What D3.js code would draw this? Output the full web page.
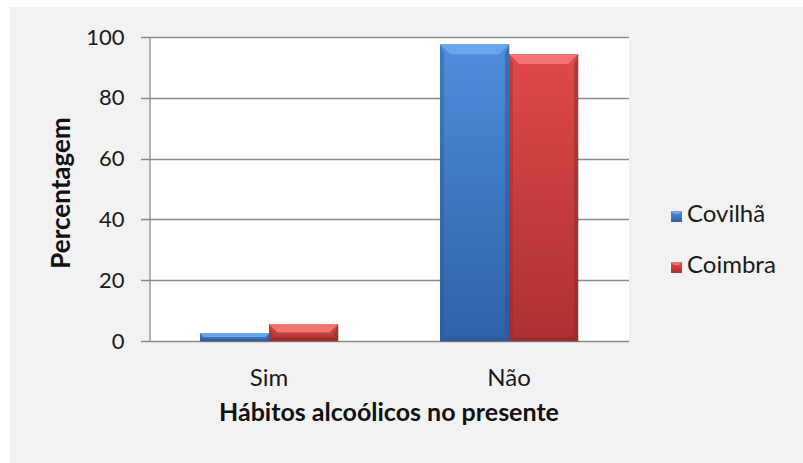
<!DOCTYPE html>
<html>
<head>
<meta charset="utf-8">
<script src="https://cdn.jsdelivr.net/npm/d3@7"></script>
<style>
  body { margin: 0; background: #fff; }
  svg { display: block; font-family: Lato, "Open Sans", sans-serif; }
</style>
</head>
<body>
<svg></svg>
<script>
const categories = ["Sim", "Não"];
const seriesNames = ["Covilhã", "Coimbra"];
const covilha = [2.6, 97.6];
const coimbra = [5.6, 94.4];
const yTicks = [0, 20, 40, 60, 80, 100];

const width = 803, height = 463;
const plot = { left: 149, right: 629, top: 37, bottom: 341 };

const colors = {
    "Covilhã": { top: "#4f8ddc", bottom: "#2f62a8", bevel: "#6aa6ee", edge: "#28548f" },
    "Coimbra": { top: "#e04a4a", bottom: "#ad3030", bevel: "#f27373", edge: "#8f2626" }
};

let svg = d3.select("svg")
    .attr("width", width)
    .attr("height", height);

//panel background
svg.append("rect")
    .attr("x", 10).attr("y", 7)
    .attr("width", width - 10).attr("height", height - 7)
    .attr("fill", "#f2f2f2");

svg.append("rect")
    .attr("x", plot.left).attr("y", plot.top)
    .attr("width", plot.right - plot.left).attr("height", plot.bottom - plot.top)
    .attr("fill", "#ffffff");

let x0 = d3.scaleBand()
    .domain(categories)
    .range([plot.left, plot.right])
    .paddingInner(0.425)
    .paddingOuter(0.2125);

let x1 = d3.scaleBand()
    .domain(seriesNames)
    .range([0, x0.bandwidth()]);

let y = d3.scaleLinear().domain([0, 100]).range([plot.bottom, plot.top]);

//gradients
let defs = svg.append("defs");
seriesNames.forEach((s, i) => {
    let g = defs.append("linearGradient")
        .attr("id", "grad" + i)
        .attr("x1", 0).attr("y1", 0).attr("x2", 0).attr("y2", 1);
    g.append("stop").attr("offset", "0%").attr("stop-color", colors[s].top);
    g.append("stop").attr("offset", "100%").attr("stop-color", colors[s].bottom);
});

//gridlines
svg.append("g")
    .selectAll("line")
    .data(yTicks)
    .enter()
    .append("line")
    .attr("x1", plot.left - 8)
    .attr("x2", plot.right)
    .attr("y1", d => Math.round(y(d)) + 0.5)
    .attr("y2", d => Math.round(y(d)) + 0.5)
    .attr("stroke", "#8a8a8a")
    .attr("stroke-width", 1.3);

//y axis
let yAxis = d3.axisLeft(y).tickValues(yTicks).tickSize(0).tickPadding(25);
let yg = svg.append("g")
    .attr("transform", `translate(${plot.left + 0.5}, 0)`)
    .call(yAxis);
yg.select(".domain").attr("stroke", "#8a8a8a").attr("stroke-width", 1.3);
yg.selectAll("text")
    .attr("font-size", 22)
    .attr("fill", "#1a1a1a")
    .attr("font-family", "Lato, sans-serif");

//bars
const rows = categories.map((c, i) => ({ cat: c, values: [covilha[i], coimbra[i]] }));

let groups = svg.append("g")
    .selectAll("g")
    .data(rows)
    .enter()
    .append("g")
    .attr("transform", d => `translate(${x0(d.cat)}, 0)`);

groups.each(function (row) {
    let g = d3.select(this);
    row.values.forEach((v, i) => {
        let s = seriesNames[i];
        let bx = x1(s), bw = x1.bandwidth();
        let by = y(v), bh = y(0) - y(v);
        let bev = Math.min(10, bh / 2);
        //shadow
        g.append("rect")
            .attr("x", bx + 1).attr("y", by + 1)
            .attr("width", bw).attr("height", bh)
            .attr("fill", "rgba(0,0,0,0.18)");
        g.append("rect")
            .attr("x", bx).attr("y", by)
            .attr("width", bw).attr("height", bh)
            .attr("fill", `url(#grad${i})`);
        //top bevel
        g.append("polygon")
            .attr("points", [[bx, by], [bx + bw, by], [bx + bw - bev, by + bev], [bx + bev, by + bev]].join(" "))
            .attr("fill", colors[s].bevel);
        //side edges
        g.append("polygon")
            .attr("points", [[bx, by], [bx + bev * 0.4, by + bev], [bx + bev * 0.4, by + bh - bev * 0.4], [bx, by + bh]].join(" "))
            .attr("fill", colors[s].edge).attr("opacity", 0.35);
        g.append("polygon")
            .attr("points", [[bx + bw, by], [bx + bw - bev * 0.4, by + bev], [bx + bw - bev * 0.4, by + bh - bev * 0.4], [bx + bw, by + bh]].join(" "))
            .attr("fill", colors[s].edge).attr("opacity", 0.5);
        //bottom edge
        g.append("polygon")
            .attr("points", [[bx, by + bh], [bx + bw, by + bh], [bx + bw - bev * 0.4, by + bh - bev * 0.4], [bx + bev * 0.4, by + bh - bev * 0.4]].join(" "))
            .attr("fill", colors[s].edge).attr("opacity", 0.5);
    });
});

//x axis
let xAxis = d3.axisBottom(x0).tickSize(0).tickPadding(27);
let xg = svg.append("g")
    .attr("transform", `translate(0, ${Math.round(plot.bottom) + 0.5})`)
    .call(xAxis);
xg.select(".domain").remove();
xg.selectAll("text")
    .attr("font-size", 24)
    .attr("fill", "#1a1a1a")
    .attr("font-family", "Lato, sans-serif");

//axis titles
svg.append("text")
    .attr("x", (plot.left + plot.right) / 2)
    .attr("y", 421)
    .attr("text-anchor", "middle")
    .attr("font-size", 25)
    .attr("font-weight", "bold")
    .attr("fill", "#111")
    .text("Hábitos alcoólicos no presente");

svg.append("text")
    .attr("transform", "translate(70, 193) rotate(-90)")
    .attr("text-anchor", "middle")
    .attr("font-size", 26)
    .attr("font-weight", "bold")
    .attr("fill", "#111")
    .text("Percentagem");

//legend
let legend = svg.append("g")
    .selectAll("g")
    .data(seriesNames)
    .enter()
    .append("g")
    .attr("transform", (d, i) => `translate(671, ${211 + i * 51})`);

legend.append("rect")
    .attr("width", 11).attr("height", 11)
    .attr("fill", (d, i) => `url(#grad${i})`);
legend.append("polygon")
    .attr("points", "0,0 11,0 8,3 3,3")
    .attr("fill", d => colors[d].bevel);
legend.append("text")
    .attr("x", 16)
    .attr("y", 11)
    .attr("font-size", 24)
    .attr("fill", "#1a1a1a")
    .text(d => d);
</script>
</body>
</html>
